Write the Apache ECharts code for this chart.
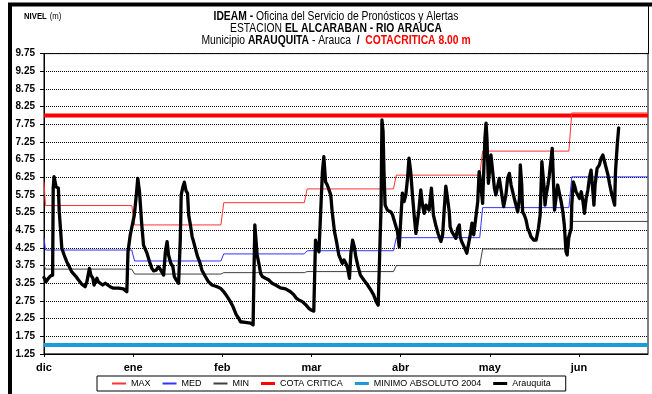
<!DOCTYPE html>
<html>
<head>
<meta charset="utf-8">
<script src="https://cdn.jsdelivr.net/npm/echarts@6/dist/echarts.min.js"></script>
<style>
  html, body { margin: 0; padding: 0; background: #fff; }
  #chart { width: 652px; height: 394px; }
</style>
</head>
<body>
<div id="chart"></div>
<script>
// Axis: one slot per day, Dec 1 = slot 0 (leap-year February)
const monthLabels = ['dic', 'ene', 'feb', 'mar', 'abr', 'may', 'jun'];
const tickEvery = 31;
const axisEnd = 210;
const monthStart = [0, 31, 62, 91, 122, 152, 183];

// Monthly historical levels (m), Dec..Jun; first value is carried in from November
const maxCarried = 6.12, medCarried = 4.54, minCarried = 3.77;
const maxLevel = [5.45, 4.90, 5.53, 5.92, 6.31, 6.99, 8.07];
const medLevel = [4.19, 3.88, 4.08, 4.17, 4.54, 5.39, 6.26];
const minLevel = [3.65, 3.51, 3.55, 3.58, 3.75, 4.22, 5.00];

const cotaCritica = 8.00;
const minimoAbsoluto2004 = 1.50;

// Observed level at Arauquita: [day, level m]
const arauquita = [
  [0,3.41],[0.7,3.29],[1.5,3.39],[2.3,3.46],[3,3.48],[3.2,5.94],[3.5,6.27],[3.8,6.31],[4.2,5.98],[5.0,5.94],
  [5.3,5.27],[5.8,4.71],[6.2,4.24],[7,4.05],[7.9,3.86],[8.8,3.72],[9.6,3.58],[10.2,3.53],[11.1,3.44],[12,3.34],
  [13.1,3.23],[14.3,3.15],[14.9,3.29],[15.8,3.67],[16.3,3.48],[17,3.39],[17.4,3.2],[18.4,3.39],[18.9,3.29],[19.5,3.34],
  [20.4,3.2],[21.3,3.25],[21.8,3.2],[23,3.15],[24.1,3.11],[25.9,3.11],[27.6,3.09],[28.8,3.01],[29.2,4.14],[30,4.62],
  [30.6,4.66],[31.4,5.18],[32.1,5.75],[32.6,6.22],[33.2,5.84],[34,4.9],[34.6,4.33],[35.8,4.1],[36.7,3.86],[37.5,3.67],
  [38.1,3.6],[39,3.62],[39.8,3.72],[40.4,3.65],[41.6,3.48],[42.2,4.14],[42.8,4.43],[43.3,4.05],[44.1,3.81],[44.8,3.72],
  [45.3,3.44],[46,3.34],[46.8,3.25],[47.4,4.52],[47.7,5.75],[48.3,5.98],[48.8,6.11],[49.4,5.86],[49.9,5.8],[50.3,5.18],
  [50.9,4.9],[51.5,4.57],[52,4.43],[52.6,4.24],[53.4,4.0],[54.1,3.86],[54.9,3.62],[56.1,3.44],[57.2,3.29],[58.4,3.2],
  [60.2,3.15],[61.3,3.11],[62.5,3.01],[63.7,2.87],[64.8,2.73],[65.7,2.59],[66.9,2.35],[67.7,2.26],[68.3,2.16],[70,2.14],
  [71.8,2.12],[72.7,2.07],[73.3,4.9],[73.6,4.95],[74.1,4.05],[74.8,3.77],[75.3,3.53],[75.9,3.44],[77,3.39],[78.2,3.34],
  [79.3,3.25],[79.9,3.29],[80.5,3.2],[82.2,3.12],[84,3.09],[85.7,3.01],[86.9,2.92],[87.8,2.82],[88.6,2.78],[89.8,2.73],
  [90.9,2.65],[92.1,2.54],[92.9,2.49],[93.8,2.46],[94.4,4.47],[95,4.52],[95.6,4.14],[96.8,6.41],[97.3,6.83],[97.9,6.12],
  [98.5,6.03],[99.7,5.75],[100.2,5.27],[101,4.71],[101.7,4.43],[102.5,4.05],[103.7,3.81],[104.3,3.91],[105,3.81],[105.6,3.67],
  [106.2,3.39],[106.7,4.1],[107.3,4.47],[107.9,4.28],[108.4,4.0],[109.2,3.72],[110,3.48],[111.2,3.34],[112.5,3.2],[113.6,3.06],
  [114.6,2.92],[115.5,2.73],[116.2,2.63],[116.8,2.65],[117.2,5.46],[117.5,7.87],[117.9,7.54],[118.2,6.41],[118.6,5.46],[119.4,5.32],
  [120.6,5.27],[121.2,5.18],[121.7,5.13],[122.9,4.71],[123.5,4.28],[124,4.99],[124.6,5.8],[125.2,5.56],[125.8,5.75],[126.4,6.22],
  [126.9,6.79],[127.5,6.41],[128.1,5.75],[128.7,5.18],[129.3,4.66],[130.4,5.37],[131,5.89],[131.6,5.46],[132.2,5.23],[132.8,5.46],
  [133.9,5.32],[134.7,5.94],[135.4,5.18],[136.2,4.9],[137,4.66],[138,4.43],[138.6,4.62],[139.1,5.27],[139.7,6.0],[140.3,5.65],
  [140.9,5.27],[141.2,4.85],[141.8,4.71],[143.2,4.52],[143.8,4.8],[144.4,4.9],[144.7,4.57],[145.2,4.43],[146.1,4.28],[147,4.1],
  [147.5,4.07],[148.2,4.62],[148.8,4.95],[149.4,4.62],[150.8,5.56],[151.3,6.41],[151.9,6.03],[152.5,5.51],[152.8,6.22],[153.3,7.35],
  [153.7,7.78],[154,7.35],[154.5,6.08],[155.1,6.6],[155.4,6.88],[156,6.41],[156.6,5.94],[157.1,5.75],[158.3,6.22],[159.2,5.75],
  [159.8,5.42],[160.6,5.75],[161.2,6.22],[161.8,6.36],[162.4,6.03],[163.5,5.65],[164.1,5.46],[164.7,5.27],[165.3,5.65],[165.6,6.6],
  [166.1,6.03],[166.4,5.27],[167,5.18],[167.6,5.04],[168.2,4.8],[168.7,4.71],[169.3,4.57],[170.3,4.47],[171.1,4.47],[171.9,4.8],
  [172.5,5.18],[173.1,6.69],[173.8,6.03],[174.2,5.46],[174.6,5.75],[175.2,6.03],[175.7,6.31],[176.7,7.07],[177,6.41],[177.5,5.32],
  [178,5.65],[178.6,6.03],[179.8,5.56],[180.4,5.27],[180.9,4.9],[181.5,4.14],[181.9,4.05],[182.3,4.52],[182.8,4.66],[183.3,4.8],
  [183.5,5.46],[184,6.12],[184.4,6.03],[185,5.84],[185.6,5.89],[186.2,5.65],[186.8,5.84],[187.4,5.56],[187.9,5.23],[188.5,5.65],
  [189.1,5.89],[189.7,6.27],[190.2,6.45],[190.8,5.89],[191.2,5.46],[191.6,6.03],[192.3,6.5],[193.1,6.6],[193.7,6.79],[194.3,6.88],
  [194.9,6.93],[196.1,6.31],[196.6,6.08],[197.2,5.84],[197.8,5.65],[198.4,5.46],[198.7,6.41],[199.3,7.16],[199.8,7.65]
];

// Monthly level as a stepped line: flat through each month, one-day ramp at month change
function monthlySteps(levels, carried) {
  const pts = [[0, carried]];
  levels.forEach((v, m) => {
    const end = m < levels.length - 1 ? monthStart[m + 1] - 0.5 : axisEnd;
    pts.push([monthStart[m] + 0.5, v], [end, v]);
  });
  return pts;
}

// Legend swatches: a bar of the given thickness centred in a 14x8 box
function swatch(thick) {
  const y0 = (8 - thick) / 2;
  return 'path://M0,0h0.01v0.01h-0.01z M0,7.99h0.01v0.01h-0.01z M0,' + y0 + 'h14v' + thick + 'h-14z';
}

const SANS = '"Liberation Sans", Arial, sans-serif';
const NARROW = 0.86;

const chart = echarts.init(document.getElementById('chart'), null, { renderer: 'canvas' });

chart.setOption({
  animation: false,
  backgroundColor: '#fff',
  legend: {
    left: 97,
    top: 376,
    orient: 'horizontal',
    itemWidth: 14,
    itemHeight: 8,
    itemGap: 12,
    padding: [3, 15, 3, 15],
    borderColor: '#000',
    borderWidth: 1,
    borderRadius: 0,
    symbolKeepAspect: true,
    itemStyle: { borderWidth: 0 },
    textStyle: { fontFamily: SANS, fontSize: 9, color: '#000' },
    data: [
      { name: 'MAX', icon: swatch(2) },
      { name: 'MED', icon: swatch(2) },
      { name: 'MIN', icon: swatch(2) },
      { name: 'COTA CRITICA', icon: swatch(3) },
      { name: 'MINIMO ABSOLUTO 2004', icon: swatch(3) },
      { name: 'Arauquita', icon: swatch(3) }
    ]
  },
  grid: {
    left: 44,
    top: 53.6,
    right: 4,
    bottom: 40.1,
    show: true,
    borderColor: '#000',
    borderWidth: 1,
    backgroundColor: '#fff'
  },
  xAxis: {
    type: 'value',
    min: 0,
    max: axisEnd,
    interval: tickEvery,
    axisLine: { show: true, lineStyle: { color: '#000', width: 1 } },
    axisTick: { show: true, inside: false, length: 3, lineStyle: { color: '#000' } },
    splitLine: { show: false },
    axisLabel: {
      margin: 9,
      showMaxLabel: false,
      fontFamily: SANS,
      fontSize: 11,
      fontWeight: 'bold',
      color: '#000',
      formatter: v => (v % tickEvery === 0 ? (monthLabels[v / tickEvery] || '') : '')
    }
  },
  yAxis: {
    type: 'value',
    min: 1.25,
    max: 9.75,
    interval: 0.5,
    axisLine: { show: true, lineStyle: { color: '#000', width: 1 } },
    axisTick: { show: true, inside: false, length: 4, lineStyle: { color: '#000' } },
    splitLine: { show: true, lineStyle: { color: '#000', width: 1, type: [1, 1] } },
    axisLabel: {
      margin: 9,
      fontFamily: SANS,
      fontSize: 10,
      fontWeight: 'bold',
      color: '#000',
      formatter: v => v.toFixed(2)
    }
  },
  series: [
    { name: 'MAX', type: 'line', symbol: 'none', data: monthlySteps(maxLevel, maxCarried),
      lineStyle: { color: '#FF3333', width: 1 }, itemStyle: { color: '#FF3333' }, z: 2 },
    { name: 'MED', type: 'line', symbol: 'none', data: monthlySteps(medLevel, medCarried),
      lineStyle: { color: '#3333FF', width: 1 }, itemStyle: { color: '#3333FF' }, z: 2 },
    { name: 'MIN', type: 'line', symbol: 'none', data: monthlySteps(minLevel, minCarried),
      lineStyle: { color: '#404040', width: 1 }, itemStyle: { color: '#404040' }, z: 2 },
    { name: 'COTA CRITICA', type: 'line', symbol: 'none', data: [[0, cotaCritica], [axisEnd, cotaCritica]],
      lineStyle: { color: '#FF0000', width: 4 }, itemStyle: { color: '#FF0000' }, z: 1 },
    { name: 'MINIMO ABSOLUTO 2004', type: 'line', symbol: 'none', data: [[0, minimoAbsoluto2004], [axisEnd, minimoAbsoluto2004]],
      lineStyle: { color: '#1B9CD8', width: 4 }, itemStyle: { color: '#1B9CD8' }, z: 3 },
    { name: 'Arauquita', type: 'line', symbol: 'none', data: arauquita,
      lineStyle: { color: '#000', width: 3.3, join: 'round', cap: 'round' }, itemStyle: { color: '#000' }, z: 4 }
  ],
  graphic: [
    // heading, set in a narrowed sans
    { type: 'text', silent: true, z: 100, x: 336, y: 11, scaleX: NARROW,
      style: {
        text: '{b|IDEAM -} {n|Oficina del Servicio de Pronósticos y Alertas}\n' +
              '{n|ESTACION }{b|EL ALCARABAN - RIO ARAUCA}\n' +
              '{n|Municipio }{b|ARAUQUITA}{n| - Arauca  }{b|/  }{r|COTACRITICA 8.00 m}',
        align: 'center',
        verticalAlign: 'top',
        font: '12px ' + SANS,
        lineHeight: 12,
        rich: {
          b: { fontFamily: SANS, fontSize: 12, fontWeight: 'bold', fill: '#000', lineHeight: 12 },
          n: { fontFamily: SANS, fontSize: 12, fontWeight: 'normal', fill: '#000', lineHeight: 12 },
          r: { fontFamily: SANS, fontSize: 12, fontWeight: 'bold', fill: '#FF0000', lineHeight: 12 }
        }
      } },
    { type: 'text', silent: true, z: 100, x: 24, y: 17, scaleX: NARROW,
      style: {
        text: '{b|NIVEL} {n|(m)}',
        align: 'left',
        verticalAlign: 'middle',
        rich: {
          b: { fontFamily: SANS, fontSize: 9, fontWeight: 'bold', fill: '#000' },
          n: { fontFamily: SANS, fontSize: 9, fontWeight: 'normal', fill: '#000' }
        }
      } },
    // outer frame
    { type: 'rect', silent: true, z: 100,
      shape: { x: 10, y: 4.5, width: 700, height: 500 },
      style: { fill: null, stroke: '#000', lineWidth: 4 } },
    { type: 'line', silent: true, z: 100,
      shape: { x1: 648.5, y1: 5, x2: 648.5, y2: 54 },
      style: { stroke: '#000', lineWidth: 1 } }
  ]
});
</script>
</body>
</html>
